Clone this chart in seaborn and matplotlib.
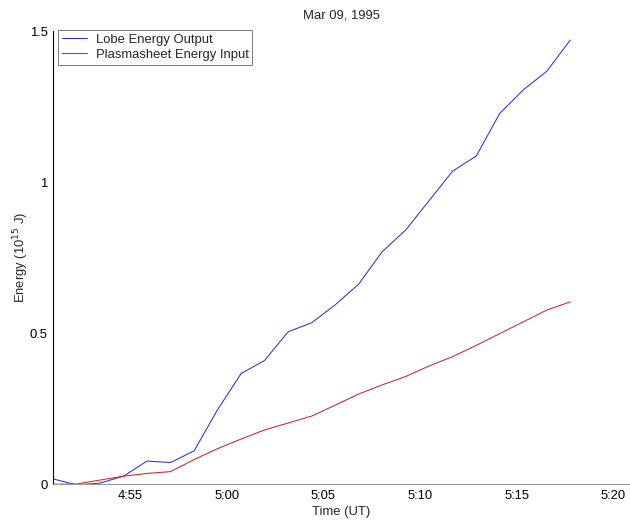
import numpy as np
import pandas as pd
import seaborn as sns
import matplotlib.pyplot as plt
from matplotlib.ticker import FixedLocator, FixedFormatter

sns.set_style("white")
plt.rcParams['font.family'] = ['Liberation Sans', 'DejaVu Sans']

# time in minutes after 4:00 UT
waktu = [51.02, 52.24, 53.45, 54.67, 55.88, 57.10, 58.32, 59.53, 60.75, 61.96, 63.18, 64.40,
         65.61, 66.83, 68.04, 69.26, 70.48, 71.69, 72.91, 74.12, 75.34, 76.56, 77.77]

lobe_output = [0.018, -0.002, 0.004, 0.027, 0.077, 0.072, 0.111, 0.247, 0.367, 0.41, 0.505, 0.535,
               0.594, 0.663, 0.770, 0.842, 0.940, 1.037, 1.087, 1.228, 1.306, 1.368, 1.471]

plasma_input = [0.0, 0.001, 0.014, 0.027, 0.036, 0.042, 0.082, 0.118, 0.150, 0.180, 0.203, 0.226,
                0.262, 0.299, 0.329, 0.357, 0.392, 0.423, 0.460, 0.499, 0.538, 0.577, 0.604]

tick_pos = [55, 60, 65, 70, 75, 80]
tick_lbl = ['4:55', '5:00', '5:05', '5:10', '5:15', '5:20']

df = pd.DataFrame({'Waktu': waktu * 2,
                   'Energi': lobe_output + plasma_input,
                   'Seri': ['Lobe Energy Output'] * len(waktu) + ['Plasmasheet Energy Input'] * len(waktu)})

fs = 9.4
fig = plt.figure(figsize=(6.3, 5.23), dpi=100)
ax = fig.add_axes([53 / 630, (523 - 484.3) / 523, 1 - 53 / 630, (484.3 - 31.3) / 523])

sns.lineplot(data=df, x='Waktu', y='Energi', hue='Seri',
             palette={'Lobe Energy Output': '#3030d0', 'Plasmasheet Energy Input': '#d82020'},
             linewidth=0.75, ax=ax)

ax.set_xlim(51.02, 80.86)
ax.set_ylim(0, 1.5)
ax.xaxis.set_major_locator(FixedLocator(tick_pos))
ax.xaxis.set_major_formatter(FixedFormatter(tick_lbl))
ax.set_yticks([0, 0.5, 1, 1.5])
ax.set_yticklabels(['0', '0.5', '1', '1.5'])
ax.tick_params(direction='in', length=5, width=0.6, labelsize=fs, colors='black', pad=4)
ax.tick_params(axis='x', color='#777777')

for s in ['top', 'right']:
    ax.spines[s].set_visible(False)
ax.spines['left'].set_color('black')
ax.spines['left'].set_linewidth(0.8)
ax.spines['bottom'].set_color('#999999')
ax.spines['bottom'].set_linewidth(0.8)

ax.set_title('Mar 09, 1995', fontsize=fs, pad=9)
ax.set_xlabel('Time (UT)', fontsize=fs, labelpad=3)
ax.set_ylabel('Energy (10$^{15}$ J)', fontsize=fs)
ax.yaxis.set_label_coords(-22 / 577, 0.5)

leg = ax.legend(loc='upper left', bbox_to_anchor=(0.0092, 1.003), fontsize=fs, frameon=True,
                fancybox=False, edgecolor='#666666', framealpha=1, borderpad=0.3,
                labelspacing=0.2, handlelength=1.9, handletextpad=0.66, borderaxespad=0)
leg.get_frame().set_linewidth(0.6)
for h in leg.get_lines():
    h.set_linewidth(0.75)

fig.savefig('out.png', dpi=100)
